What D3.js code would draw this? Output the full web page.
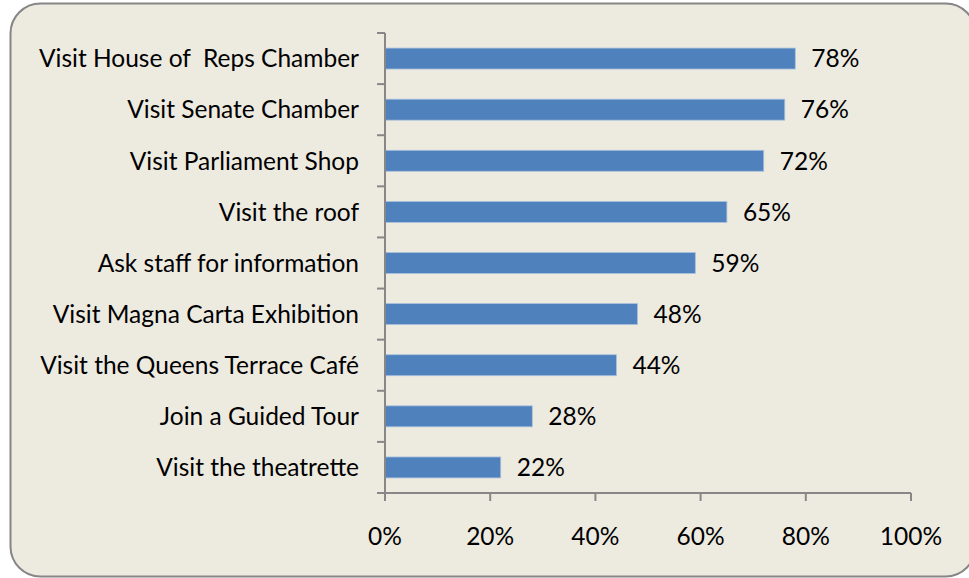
<!DOCTYPE html>
<html>
<head>
<meta charset="utf-8">
<script src="https://cdn.jsdelivr.net/npm/d3@7"></script>
<style>
  html, body { margin: 0; padding: 0; background: #ffffff; }
  svg { display: block; }
  text { font-family: Lato, "Open Sans", sans-serif; fill: #000; white-space: pre; }
</style>
</head>
<body>
<svg id="chart" width="969" height="578"></svg>
<script>
// Activities, top to bottom
const categories = [
  "Visit House of  Reps Chamber",
  "Visit Senate Chamber",
  "Visit Parliament Shop",
  "Visit the roof",
  "Ask staff for information",
  "Visit Magna Carta Exhibition",
  "Visit the Queens Terrace Café",
  "Join a Guided Tour",
  "Visit the theatrette"
];
// Share of visitors (%)
const values = [78, 76, 72, 65, 59, 48, 44, 28, 22];
// Axis ticks
const xTicks = [0, 20, 40, 60, 80, 100];

const svg = d3.select("#chart");

// Panel with rounded corners
svg.append("rect")
  .attr("x", 10.5).attr("y", 3.5)
  .attr("width", 965).attr("height", 573)
  .attr("rx", 30).attr("ry", 30)
  .attr("fill", "#EDEAE0")
  .attr("stroke", "#868686")
  .attr("stroke-width", 2);

const plot = { left: 385, right: 911, top: 33, bottom: 493 };

const x = d3.scaleLinear().domain([0, 100]).range([plot.left, plot.right]);
const y = d3.scaleBand().domain(categories).range([plot.top, plot.bottom]).paddingInner(0.59).paddingOuter(0.295);
const yOuter = d3.scaleBand().domain(categories).range([plot.top, plot.bottom]);

const g = svg.append("g");
const axisColor = "#878787";
const fontSize = 24.5;

// Bars
g.selectAll("rect.bar").data(values).enter().append("rect")
  .attr("class", "bar")
  .attr("x", x(0))
  .attr("y", (d, i) => y(categories[i]))
  .attr("width", d => x(d) - x(0))
  .attr("height", y.bandwidth())
  .attr("fill", "#4F81BD")
  .attr("stroke", "#A9C1DE")
  .attr("stroke-width", 0.8);

// Value labels
g.selectAll("text.val").data(values).enter().append("text")
  .attr("class", "val")
  .attr("x", d => x(d) + 16)
  .attr("y", (d, i) => y(categories[i]) + y.bandwidth() / 2)
  .attr("dy", "0.36em")
  .style("font-size", fontSize + "px")
  .text(d => d + "%");

// Y axis: line, ticks between categories, labels
const yTickPos = categories.map(c => yOuter(c)).concat([plot.bottom]);
g.append("line")
  .attr("x1", plot.left).attr("x2", plot.left)
  .attr("y1", plot.top).attr("y2", plot.bottom)
  .attr("stroke", axisColor).attr("stroke-width", 2);
g.selectAll("line.ytick").data(yTickPos).enter().append("line")
  .attr("x1", plot.left - 8).attr("x2", plot.left)
  .attr("y1", d => d).attr("y2", d => d)
  .attr("stroke", axisColor).attr("stroke-width", 2);
g.selectAll("text.cat").data(categories).enter().append("text")
  .attr("class", "cat")
  .attr("x", plot.left - 26)
  .attr("y", d => yOuter(d) + yOuter.bandwidth() / 2)
  .attr("dy", "0.36em")
  .attr("text-anchor", "end")
  .style("font-size", fontSize + "px")
  .text(d => d);

// X axis
g.append("line")
  .attr("x1", plot.left).attr("x2", plot.right)
  .attr("y1", plot.bottom).attr("y2", plot.bottom)
  .attr("stroke", axisColor).attr("stroke-width", 2);
g.selectAll("line.xtick").data(xTicks).enter().append("line")
  .attr("x1", d => x(d)).attr("x2", d => x(d))
  .attr("y1", plot.bottom).attr("y2", plot.bottom + 8)
  .attr("stroke", axisColor).attr("stroke-width", 2);
g.selectAll("text.xt").data(xTicks).enter().append("text")
  .attr("class", "xt")
  .attr("x", d => x(d))
  .attr("y", 536)
  .attr("dy", "0.36em")
  .attr("text-anchor", "middle")
  .style("font-size", fontSize + "px")
  .text(d => d + "%");
</script>
</body>
</html>
